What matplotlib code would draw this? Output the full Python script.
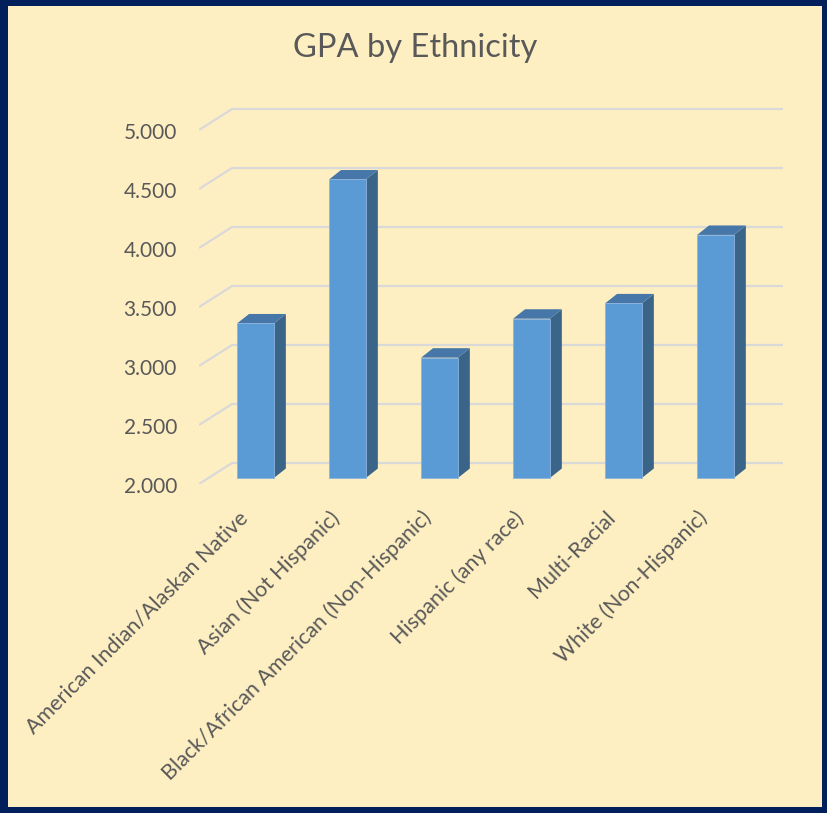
import matplotlib
matplotlib.use("Agg")
import matplotlib.pyplot as plt
from matplotlib.patches import Rectangle, Polygon
from matplotlib.transforms import offset_copy
import numpy as np

# data
categories = ["American Indian/Alaskan Native", "Asian (Not Hispanic)",
              "Black/African American (Non-Hispanic)", "Hispanic (any race)",
              "Multi-Racial", "White (Non-Hispanic)"]
gpa = [3.31, 4.53, 3.02, 3.35, 3.48, 4.06]
y_ticks = [2.0, 2.5, 3.0, 3.5, 4.0, 4.5, 5.0]
title = "GPA by Ethnicity"

plt.rcParams['font.family'] = ['Lato', 'DejaVu Sans']

bg = '#FEEFC2'
navy = '#001F5B'
text_col = '#595959'
grid_col = '#D9D9D9'
front_col = '#5B9BD5'
top_col = '#4677A8'
side_col = '#3B6489'

W, H = 828, 813
fig = plt.figure(figsize=(W / 100, H / 100), dpi=100)
fig.patch.set_facecolor(navy)
fig.patches.append(Rectangle((8 / W, 6 / H), (W - 14) / W, (H - 12) / H,
                             transform=fig.transFigure, facecolor=bg,
                             edgecolor='none', zorder=-1))

ax = fig.add_axes([199 / W, 329 / H, 584 / W, 377 / H])
ax.set_zorder(1)
ax.set_xlim(-0.614, 5.734)
ax.set_ylim(1.949, 5.144)
ax.axis('off')

# fake 3d: offsets (data units) of the front plane and back wall vs the bar plane
front_dx, front_dy = -0.103, -0.051
wall_dx, wall_dy = 0.256, 0.127
bar_w = 0.40
bar_dx, bar_dy = 0.13, 0.08
base = y_ticks[0]

x0, x1 = ax.get_xlim()
label_tr = offset_copy(ax.transData, fig, x=-22, y=-3, units='dots')
for v in y_ticks:
    ax.plot([x0, x0 + wall_dx - front_dx, x1],
            [v + front_dy, v + wall_dy, v + wall_dy],
            color=grid_col, lw=1.6, zorder=1, solid_capstyle='butt')
    ax.text(x0, v + front_dy, f"{v:.3f}", transform=label_tr, ha='right',
            va='center', fontsize=15, color=text_col)

x = np.arange(len(categories))
vals = np.array(gpa)
ax.bar(x, vals - base, bottom=base, width=bar_w, color=front_col,
       edgecolor='#8DB3DE', linewidth=0.6, zorder=3)
for xi, v in zip(x, vals):
    r = xi + bar_w / 2
    l = xi - bar_w / 2
    ax.add_patch(Polygon([(r, base), (r + bar_dx, base + bar_dy),
                          (r + bar_dx, v + bar_dy), (r, v)],
                         closed=True, facecolor=side_col, edgecolor='none',
                         zorder=2))
    ax.add_patch(Polygon([(l, v), (r, v), (r + bar_dx, v + bar_dy),
                          (l + bar_dx, v + bar_dy)],
                         closed=True, facecolor=top_col, edgecolor='none',
                         zorder=2))

for xi, lab in zip(x, categories):
    ax.text(xi - 0.12, base - 0.31, lab, rotation=45, rotation_mode='anchor',
            ha='right', va='center', fontsize=15.5, color=text_col,
            clip_on=False)

fig.text(415 / W, 1 - 48 / H, title, ha='center', va='center',
         fontsize=23.5, color=text_col)

fig.savefig('out.png', dpi=100, facecolor=fig.get_facecolor())
